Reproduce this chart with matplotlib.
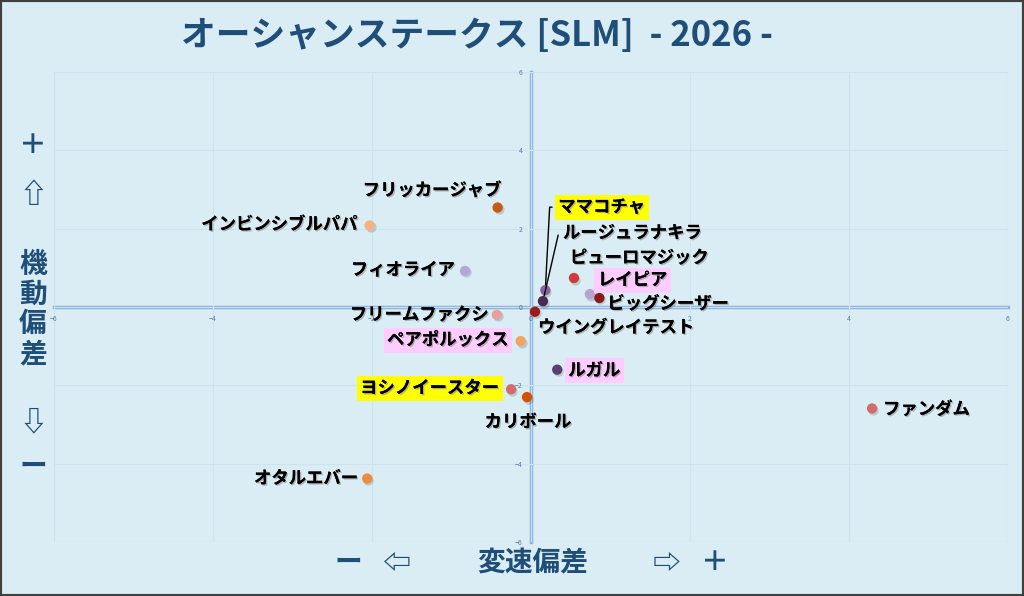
import matplotlib
matplotlib.use("Agg")
import matplotlib.pyplot as plt
import matplotlib.patheffects as pe
from matplotlib.patches import Rectangle

plt.rcParams['font.family'] = ['Noto Sans CJK JP', 'DejaVu Sans']

# --- data -------------------------------------------------------------
names = ["フリッカージャブ", "インビンシブルパパ", "フィオライア", "フリームファクシ",
         "ペアポルックス", "ヨシノイースター", "カリボール", "オタルエバー",
         "ファンダム", "ルガル", "ママコチャ", "ルージュラナキラ",
         "ピューロマジック", "レイピア", "ビッグシーザー", "ウイングレイテスト"]
speed_dev = [-0.42, -2.03, -0.83, -0.43, -0.13, -0.25, -0.05, -2.06,
             4.29, 0.33, 0.18, 0.15, 0.54, 0.74, 0.86, 0.05]
mobility_dev = [2.54, 2.08, 0.92, -0.20, -0.87, -2.10, -2.30, -4.38,
                -2.59, -1.60, 0.43, 0.15, 0.74, 0.33, 0.23, -0.12]
point_colors = ["#c55a11", "#f4b183", "#b4a7d6", "#e6a0a0",
                "#f4a460", "#d46a6a", "#d35400", "#f08a3c",
                "#d46a6a", "#5b3f73", "#8e5ea2", "#4b2a4f",
                "#d03a3a", "#b9a3cc", "#8b1a1a", "#9c1c1c"]
highlight = {"ママコチャ": "#ffff00", "ヨシノイースター": "#ffff00",
             "レイピア": "#ffccff", "ペアポルックス": "#ffccff", "ルガル": "#ffccff"}
ticks = [-6, -4, -2, 0, 2, 4, 6]

# label placement (offset in pixels, horizontal alignment)
label_pos = {
    "フリッカージャブ": (4, 17, "right"),
    "インビンシブルパパ": (-12, 1, "right"),
    "フィオライア": (-10, 1, "right"),
    "フリームファクシ": (-8, 0, "right"),
    "ペアポルックス": (-12, 1, "right"),
    "ヨシノイースター": (-12, 1, "right"),
    "カリボール": (1, -25, "center"),
    "オタルエバー": (-9, 0, "right"),
    "ファンダム": (11, -1, "left"),
    "ルガル": (11, -1, "left"),
    "ママコチャ": (13, 83, "left"),
    "ルージュラナキラ": (20, 68, "left"),
    "ピューロマジック": (-4, 20, "left"),
    "レイピア": (8, 14, "left"),
    "ビッグシーザー": (8, -6, "left"),
    "ウイングレイテスト": (3, -16, "left"),
}
leaders = {"ママコチャ": 87, "ルージュラナキラ": 77}

BG = "#daedf4"
NAVY = "#1f4e79"
AXIS = "#8db3e2"

fig = plt.figure(figsize=(10.24, 5.96), dpi=100, facecolor=BG)
ax = fig.add_axes([54 / 1024, 1 - 542 / 596, 954 / 1024, 470 / 596])
ax.set_facecolor(BG)
ax.set_xlim(-6, 6)
ax.set_ylim(-6, 6)

for sp in ["top", "right"]:
    ax.spines[sp].set_visible(False)
for sp in ["left", "bottom"]:
    ax.spines[sp].set_position("zero")
    ax.spines[sp].set_color(AXIS)
    ax.spines[sp].set_linewidth(2.5)
    ax.spines[sp].set_zorder(1)

ax.set_xticks(ticks)
ax.set_yticks(ticks)
ax.tick_params(length=0, labelsize=5, labelcolor="#5a7aa8", pad=6)
ax.grid(True, color="#cde3ee", linewidth=0.8, zorder=0)
ax.add_patch(Rectangle((0, 0), 1, 1, transform=ax.transAxes, fill=False,
                       edgecolor="#cde3ee", linewidth=0.8, zorder=0))

# shadow under points
ax.scatter(speed_dev, mobility_dev, s=55, color="#000000", alpha=0.15,
           zorder=2, linewidths=0,
           transform=ax.transData + matplotlib.transforms.ScaledTranslation(1 / 100, -1.5 / 100, fig.dpi_scale_trans))
ax.scatter(speed_dev, mobility_dev, s=55, c=point_colors, zorder=3, linewidths=0)

shadow = [pe.withSimplePatchShadow(offset=(1, -1), shadow_rgbFace="#777777", alpha=0.5)]
for name, x, y in zip(names, speed_dev, mobility_dev):
    dx, dy, ha = label_pos[name]
    kw = {}
    if name in highlight:
        kw["bbox"] = dict(boxstyle="square,pad=0.2", facecolor=highlight[name], edgecolor="none")
    if name in leaders:
        kw["arrowprops"] = dict(arrowstyle="-", color="black", lw=1.0, shrinkA=2, shrinkB=4,
                                relpos=(0, 0.5),
                                connectionstyle=f"angle,angleA=0,angleB={leaders[name]},rad=0")
    t = ax.annotate(name, (x, y), xytext=(dx, dy), textcoords="offset pixels",
                    ha=ha, va="center", fontsize=12.5, fontweight="bold", color="black",
                    zorder=5, **kw)
    t.set_path_effects(shadow + [pe.Normal()])

# title and axis captions
fig.text(477 / 1024, 1 - 35 / 596, "オーシャンステークス [SLM]  - 2026 -", ha="center", va="center",
         fontsize=25, fontweight="bold", color=NAVY)

cap = dict(ha="center", va="center", fontsize=20, fontweight="bold", color=NAVY)
for s, py in [("＋", 146), ("⇧", 195), ("機", 265), ("動", 295), ("偏", 324),
              ("差", 354), ("⇩", 422), ("ー", 467)]:
    fig.text(33 / 1024, 1 - py / 596, s, **cap)
for s, px in [("ー", 348), ("⇦", 397), ("変速偏差", 533), ("⇨", 667), ("＋", 715)]:
    fig.text(px / 1024, 1 - 563 / 596, s, **cap)

fig.add_artist(Rectangle((0, 0), 1, 1, transform=fig.transFigure, fill=False,
                         edgecolor="#404040", linewidth=3))

fig.savefig("out.png", dpi=100, facecolor=BG)
